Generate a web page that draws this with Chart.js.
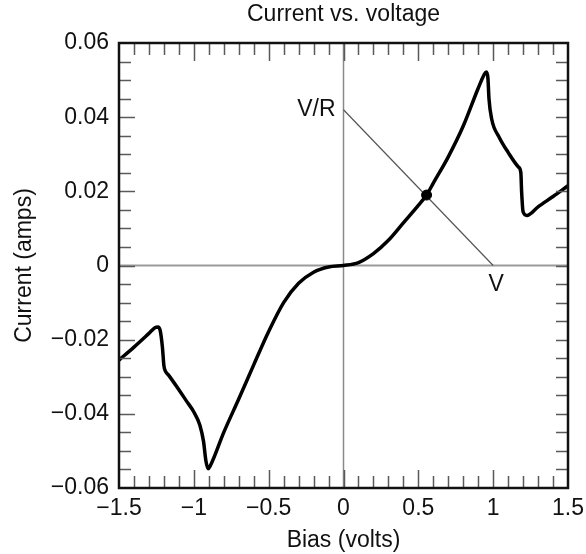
<!DOCTYPE html>
<html>
<head>
<meta charset="utf-8">
<script src="https://cdn.jsdelivr.net/npm/chart.js@4"></script>
<style>
  html, body { margin: 0; padding: 0; background: #fff; }
  #wrap { width: 586px; height: 554px; }
</style>
</head>
<body>
<div id="wrap"><canvas id="c" width="586" height="554"></canvas></div>
<script>
const biasV = [-1.5, -1.4, -1.3, -1.26, -1.24, -1.225, -1.21, -1.2, -1.19, -1.17, -1.1, -1.05, -1.0, -0.96, -0.935,
  -0.92, -0.905, -0.89, -0.8, -0.7, -0.6, -0.5, -0.4, -0.3, -0.2, -0.1, 0, 0.1, 0.2, 0.3, 0.4, 0.5, 0.555,
  0.6, 0.7, 0.8, 0.9, 0.94, 0.955, 0.965, 0.972, 0.99, 1.04, 1.1, 1.17, 1.185, 1.19, 1.2, 1.225, 1.3, 1.4, 1.5];
const currentA = [-0.0255, -0.0220, -0.0183, -0.0168, -0.0166, -0.0175, -0.0220, -0.0270, -0.0285, -0.0295, -0.0335, -0.0365, -0.0395, -0.0430, -0.0475,
  -0.0525, -0.0548, -0.0540, -0.0450, -0.0360, -0.0268, -0.0178, -0.0100, -0.0048, -0.0018, -0.0004, 0, 0.0008, 0.0032, 0.0068, 0.0115, 0.0162, 0.0190,
  0.0222, 0.0293, 0.0376, 0.0478, 0.0515, 0.0522, 0.0505, 0.0450, 0.0395, 0.0346, 0.0305, 0.0265, 0.0250, 0.0200, 0.0145, 0.0135, 0.0158, 0.0186, 0.0215];

// load line from V/R down to V, and the operating point
const loadLineV = [0, 1];
const loadLineA = [0.042, 0];
const opPointV = 0.555;
const opPointA = 0.0190;

const xMin = -1.5, xMax = 1.5, xMajor = 0.5, xMinor = 0.1;
const yMin = -0.06, yMax = 0.06, yMajor = 0.02, yMinor = 0.005;

const FONT = '"Liberation Sans", Arial, sans-serif';
const FS = 23;

const fmt = (v, digits) => {
  if (Math.abs(v) < 1e-9) return '0';
  let s = digits ? v.toFixed(digits) : String(+v.toFixed(2));
  return s.replace('-', '\u2212');
};

const frameAndTicks = {
  id: 'frameAndTicks',
  beforeDatasetsDraw(chart) {
    const { ctx, chartArea: a, scales: { x, y } } = chart;
    ctx.save();
    ctx.strokeStyle = '#9a9a9a';
    ctx.lineWidth = 2;
    ctx.beginPath();
    ctx.moveTo(a.left, y.getPixelForValue(0));
    ctx.lineTo(a.right, y.getPixelForValue(0));
    ctx.stroke();
    ctx.lineWidth = 1.5;
    ctx.strokeStyle = '#8a8a8a';
    ctx.beginPath();
    ctx.moveTo(x.getPixelForValue(0), a.top);
    ctx.lineTo(x.getPixelForValue(0), a.bottom);
    ctx.stroke();
    ctx.restore();
  },
  afterDatasetsDraw(chart) {
    const { ctx, chartArea: a, scales: { x, y } } = chart;
    ctx.save();
    ctx.strokeStyle = '#5a5a5a';
    ctx.lineWidth = 1.5;
    ctx.beginPath();
    const nx = Math.round((xMax - xMin) / xMinor);
    for (let i = 1; i < nx; i++) {
      const v = xMin + i * xMinor;
      const px = Math.round(x.getPixelForValue(v)) + 0.5;
      const len = i % 5 === 0 ? 18 : 12;
      ctx.moveTo(px, a.bottom); ctx.lineTo(px, a.bottom - len);
      ctx.moveTo(px, a.top); ctx.lineTo(px, a.top + len);
    }
    const ny = Math.round((yMax - yMin) / yMinor);
    for (let i = 1; i < ny; i++) {
      const v = yMin + i * yMinor;
      const py = Math.round(y.getPixelForValue(v)) + 0.5;
      const len = i % 4 === 0 ? 16 : 12;
      ctx.moveTo(a.left, py); ctx.lineTo(a.left + len, py);
      ctx.moveTo(a.right, py); ctx.lineTo(a.right - 12, py);
    }
    ctx.stroke();

    ctx.strokeStyle = '#111';
    ctx.lineWidth = 2.5;
    ctx.strokeRect(a.left, a.top, a.right - a.left, a.bottom - a.top);

    ctx.fillStyle = '#111';
    ctx.font = FS + 'px ' + FONT;
    ctx.textBaseline = 'middle';
    ctx.textAlign = 'right';
    ctx.fillText('V/R', x.getPixelForValue(0) - 8, y.getPixelForValue(0.042));
    ctx.textAlign = 'center';
    ctx.fillText('V', x.getPixelForValue(1.02), y.getPixelForValue(0) + 19);
    ctx.restore();
  }
};

new Chart(document.getElementById('c'), {
  type: 'scatter',
  data: {
    datasets: [
      {
        data: biasV.map((v, i) => ({ x: v, y: currentA[i] })),
        showLine: true,
        borderColor: '#000',
        borderWidth: 3.5,
        pointRadius: 0,
        cubicInterpolationMode: 'monotone',
        order: 1
      },
      {
        data: loadLineV.map((v, i) => ({ x: v, y: loadLineA[i] })),
        showLine: true,
        borderColor: '#555',
        borderWidth: 1.2,
        pointRadius: 0,
        order: 2
      },
      {
        data: [{ x: opPointV, y: opPointA }],
        pointRadius: 5,
        backgroundColor: '#000',
        borderColor: '#000',
        order: 0
      }
    ]
  },
  options: {
    responsive: false,
    animation: false,
    events: [],
    layout: { padding: { left: 0, right: 18, top: 0, bottom: 0 } },
    plugins: {
      legend: { display: false },
      tooltip: { enabled: false },
      title: {
        display: true,
        fullSize: false,
        text: 'Current vs. voltage',
        color: '#111',
        font: { family: FONT, size: FS, weight: 'normal' },
        padding: { top: 1.2, bottom: 14.2 }
      }
    },
    scales: {
      x: {
        type: 'linear',
        min: xMin, max: xMax,
        afterFit(s) { s.height = 66; s.paddingLeft = 0; s.paddingRight = 0; },
        grid: { display: false, drawTicks: false },
        border: { display: false },
        ticks: {
          stepSize: xMajor,
          padding: 7,
          color: '#111',
          font: { family: FONT, size: FS },
          maxRotation: 0,
          callback: v => fmt(v)
        },
        title: {
          display: true,
          text: 'Bias (volts)',
          color: '#111',
          font: { family: FONT, size: FS },
          padding: { top: 0, bottom: 0 }
        }
      },
      y: {
        type: 'linear',
        min: yMin, max: yMax,
        afterFit(s) { s.width = 119; s.paddingTop = 0; s.paddingBottom = 0; },
        grid: { display: false, drawTicks: false },
        border: { display: false },
        ticks: {
          stepSize: yMajor,
          padding: 10,
          color: '#111',
          font: { family: FONT, size: FS },
          callback: v => fmt(v, 2)
        },
        title: {
          display: true,
          text: 'Current (amps)',
          color: '#111',
          font: { family: FONT, size: FS },
          padding: { top: 11.2, bottom: 0 }
        }
      }
    }
  },
  plugins: [frameAndTicks]
});
</script>
</body>
</html>
